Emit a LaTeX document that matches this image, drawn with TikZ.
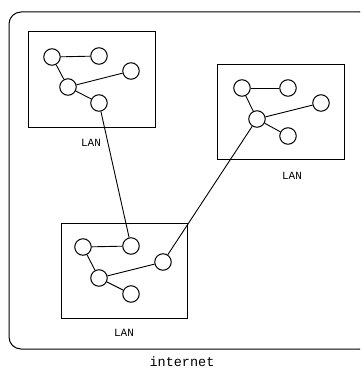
\documentclass[tikz,border=0pt]{standalone}
\usepackage{fontspec}
\setmonofont{Liberation Mono}
\begin{document}
\begin{tikzpicture}[x=1pt,y=-1pt,
  host/.style={circle,draw,line width=1pt,minimum size=16.5pt,inner sep=0pt,fill=white},
  lanbox/.style={draw,line width=1pt,inner sep=0pt},
  link/.style={line width=0.9pt},
  lbl/.style={font=\ttfamily\fontsize{11}{11}\selectfont,inner sep=0pt}]
\useasboundingbox (0,0) rectangle (360,369);
\begin{scope}
\clip (0,0) rectangle (360,369);
\draw[line width=1pt,rounded corners=12pt] (9,12) rectangle (372,349);
\end{scope}
% LAN 1
\node[lanbox,minimum width=127pt,minimum height=95pt] (box1) at (91.5,79.5) {};
\node[lbl] (lan1) at (91,143) {LAN};
\node[host] (a1) at (52,57) {};
\node[host] (b1) at (99,56) {};
\node[host] (c1) at (131,71) {};
\node[host] (d1) at (68,87) {};
\node[host] (e1) at (99,103) {};
% LAN 2
\node[lanbox,minimum width=127pt,minimum height=95pt] (box2) at (280.5,111.5) {};
\node[lbl] (lan2) at (292,176) {LAN};
\node[host] (a2) at (242,88) {};
\node[host] (b2) at (288,88) {};
\node[host] (c2) at (321,103) {};
\node[host] (d2) at (257,119) {};
\node[host] (e2) at (288,136) {};
% LAN 3
\node[lanbox,minimum width=126pt,minimum height=95pt] (box3) at (124,270.5) {};
\node[lbl] (lan3) at (124,333) {LAN};
\node[host] (a3) at (83,247) {};
\node[host] (b3) at (131,246) {};
\node[host] (c3) at (163,262) {};
\node[host] (d3) at (99,278) {};
\node[host] (e3) at (131,294) {};
\node[font=\ttfamily\fontsize{13.5}{13.5}\selectfont,inner sep=0pt] (inet) at (182,361.5) {internet};
% links
\foreach \i in {1,2,3}{
  \draw[link] (a\i) -- (b\i);
  \draw[link] (a\i) -- (d\i);
  \draw[link] (d\i) -- (c\i);
  \draw[link] (d\i) -- (e\i);
}
\draw[link] (e1) -- (b3);
\draw[link] (c3) -- (d2);
\end{tikzpicture}
\end{document}
